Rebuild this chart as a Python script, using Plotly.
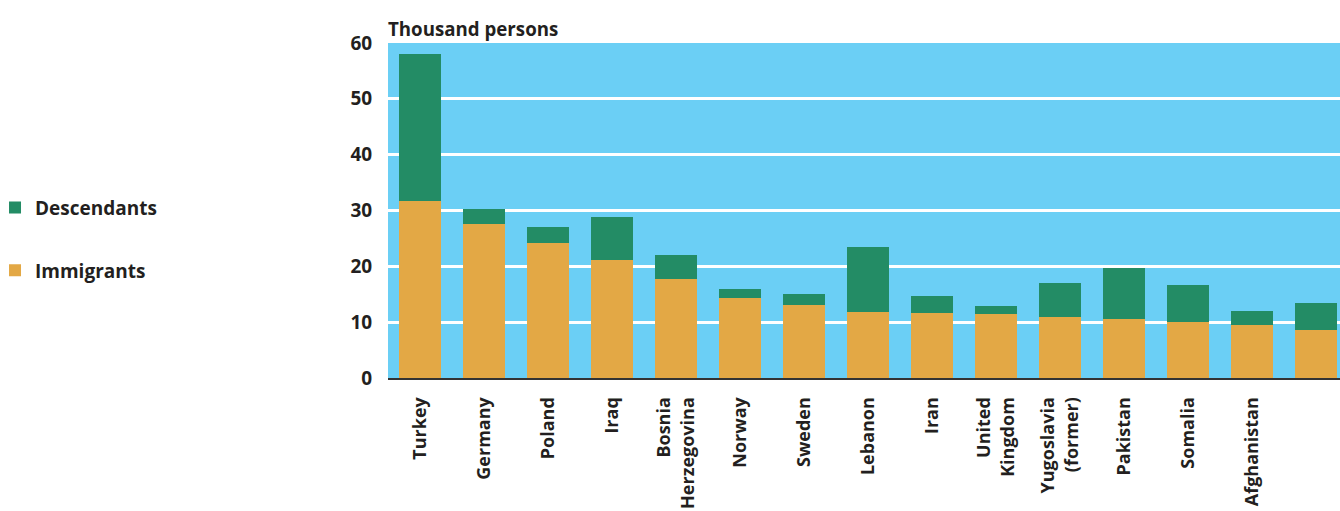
import plotly.graph_objects as go

categories = ["Turkey", "Germany", "Poland", "Iraq", "Bosnia Herzegovina", "Norway",
              "Sweden", "Lebanon", "Iran", "United Kingdom", "Yugoslavia (former)",
              "Pakistan", "Somalia", "Afghanistan", "Other"]
tick_labels = ["Turkey", "Germany", "Poland", "Iraq", "Bosnia<br>Herzegovina", "Norway",
               "Sweden", "Lebanon", "Iran", "United<br>Kingdom", "Yugoslavia<br>(former)",
               "Pakistan", "Somalia", "Afghanistan", ""]
immigrants = [31.7, 27.6, 24.2, 21.1, 17.7, 14.3, 13.1, 11.9, 11.7, 11.5, 11.0, 10.6, 10.1, 9.5, 8.6]
descendants = [26.4, 2.6, 2.8, 7.7, 4.3, 1.6, 1.9, 11.6, 3.0, 1.4, 6.0, 9.1, 6.6, 2.5, 4.8]
y_ticks = [0, 10, 20, 30, 40, 50, 60]

FONT = "Open Sans"
TXT = "#231f20"

fig = go.Figure()
fig.add_trace(go.Bar(name="Immigrants", x=categories, y=immigrants, marker_color="#e3a845",
                     marker_line_width=0, legendgroup="i", legendrank=2))
fig.add_trace(go.Bar(name="Descendants", x=categories, y=descendants, marker_color="#238c65",
                     marker_line_width=0, legendgroup="d", legendrank=1))

fig.update_layout(
    width=1340, height=511,
    barmode="stack", bargap=0.33,
    margin=dict(l=388, r=0, t=43, b=133, autoexpand=False),
    paper_bgcolor="white", plot_bgcolor="#6bcff5",
    font=dict(family=FONT, size=17, color=TXT),
    showlegend=True,
    legend=dict(x=-0.4128, y=0.565, xanchor="left", yanchor="top",
                font=dict(family=FONT, size=19, color=TXT, weight="bold"),
                traceorder="grouped", tracegroupgap=35, itemwidth=30,
                bgcolor="rgba(0,0,0,0)"),
    xaxis=dict(range=[-0.5, 14.375], tickmode="array", tickvals=categories, ticktext=tick_labels,
               tickangle=-90, showgrid=False, showline=True, linecolor="#333333", linewidth=2,
               ticks="outside", ticklen=10, tickcolor="rgba(0,0,0,0)", automargin=False,
               tickfont=dict(family=FONT, size=18, color=TXT, weight="bold")),
    yaxis=dict(range=[0, 60], tickvals=y_ticks, showgrid=True, gridcolor="white", gridwidth=2.5,
               zeroline=False, ticks="outside", ticklen=11, tickcolor="rgba(0,0,0,0)",
               automargin=False,
               tickfont=dict(family=FONT, size=19, color=TXT, weight="bold")),
    annotations=[dict(text="Thousand persons", xref="paper", yref="paper", x=0, y=1,
                      xanchor="left", yanchor="bottom", yshift=0, xshift=-2, showarrow=False,
                      font=dict(family=FONT, size=18.7, color=TXT, weight="bold"))],
)

fig.write_html("out.html", config={"displayModeBar": False},
               post_script="document.body.style.margin='0';document.body.style.overflow='hidden';")
